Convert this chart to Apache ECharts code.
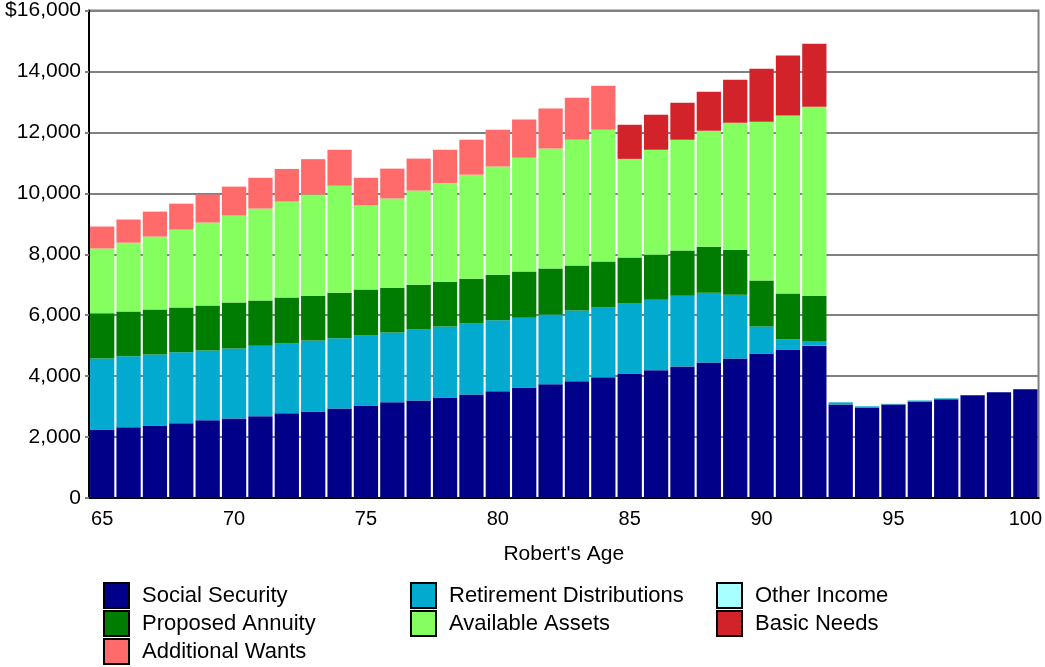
<!DOCTYPE html>
<html>
<head>
<meta charset="utf-8">
<script src="https://cdn.jsdelivr.net/npm/echarts@6/dist/echarts.min.js"></script>
<style>
  html, body { margin: 0; padding: 0; background: #fff; }
  #chart { width: 1045px; height: 667px; }
</style>
</head>
<body>
<div id="chart"></div>
<script>
// ages on the x axis
var ages = [];
for (var a = 65; a <= 100; a++) ages.push(String(a));

// stacked values (dollars)
var socialSecurity = [2250, 2320, 2380, 2450, 2550, 2610, 2680, 2780, 2840, 2940,
  3040, 3140, 3200, 3300, 3400, 3500, 3630, 3730, 3830, 3960,
  4090, 4190, 4320, 4450, 4580, 4740, 4870, 5000,
  3070, 2970, 3070, 3170, 3240, 3370, 3470, 3570];
var retirementDist = [2330, 2330, 2330, 2330, 2290, 2300, 2320, 2290, 2330, 2300,
  2290, 2290, 2330, 2330, 2330, 2330, 2290, 2290, 2320, 2290,
  2290, 2320, 2320, 2290, 2090, 890, 330, 140,
  70, 40, 20, 30, 30, 0, 0, 0];
var otherIncome = [0, 0, 0, 0, 0, 0, 0, 0, 0, 0,
  0, 0, 0, 0, 0, 0, 0, 0, 0, 0,
  0, 0, 0, 0, 0, 0, 0, 0,
  0, 0, 0, 0, 0, 0, 0, 0];
var proposedAnnuity = [1480, 1470, 1480, 1470, 1480, 1510, 1480, 1510, 1470, 1500,
  1510, 1470, 1470, 1470, 1470, 1500, 1510, 1510, 1480, 1510,
  1510, 1470, 1480, 1510, 1480, 1510, 1510, 1500,
  0, 0, 0, 0, 0, 0, 0, 0];
var availableAssets = [2130, 2260, 2390, 2560, 2720, 2850, 3020, 3150, 3320, 3510,
  2760, 2930, 3090, 3240, 3410, 3550, 3740, 3940, 4130, 4330,
  3240, 3450, 3640, 3800, 4170, 5210, 5840, 6200,
  0, 0, 0, 0, 0, 0, 0, 0];
var basicNeeds = [0, 0, 0, 0, 0, 0, 0, 0, 0, 0,
  0, 0, 0, 0, 0, 0, 0, 0, 0, 0,
  1120, 1150, 1210, 1280, 1410, 1740, 1970, 2070,
  0, 0, 0, 0, 0, 0, 0, 0];
var additionalWants = [720, 760, 820, 850, 920, 950, 1010, 1070, 1160, 1180,
  910, 980, 1050, 1090, 1150, 1210, 1250, 1310, 1380, 1440,
  0, 0, 0, 0, 0, 0, 0, 0,
  0, 0, 0, 0, 0, 0, 0, 0];

var font = 'Liberation Sans, Arial, sans-serif';

function bar(name, data, color) {
  return {
    name: name,
    type: 'bar',
    stack: 'total',
    data: data,
    barCategoryGap: '8%',
    itemStyle: { color: color },
    emphasis: { disabled: true }
  };
}

// one legend per entry so the 3-column grid sits exactly where it should
function legendItem(name, left, top) {
  return {
    data: [name],
    left: left,
    top: top,
    padding: 0,
    itemWidth: 25,
    itemHeight: 25,
    icon: 'rect',
    itemStyle: { borderColor: '#000', borderWidth: 2 },
    textStyle: { fontFamily: font, fontSize: 22, color: '#000', padding: [0, 0, 0, 8] }
  };
}

var myChart = echarts.init(document.getElementById('chart'));
var option = {
  animation: false,
  grid: {
    left: 89, right: 4, top: 10, bottom: 169,
    show: true, borderColor: '#808080', borderWidth: 2
  },
  legend: [
    legendItem('Social Security', 103, 582),
    legendItem('Retirement Distributions', 410, 582),
    legendItem('Other Income', 716, 582),
    legendItem('Proposed Annuity', 103, 610),
    legendItem('Available Assets', 410, 610),
    legendItem('Basic Needs', 716, 610),
    legendItem('Additional Wants', 103, 638)
  ],
  xAxis: {
    type: 'category',
    data: ages,
    name: "Robert's Age",
    nameLocation: 'middle',
    nameGap: 46,
    nameTextStyle: { fontFamily: font, fontSize: 21, color: '#000' },
    axisLine: { lineStyle: { color: '#000', width: 2 } },
    axisTick: { alignWithLabel: true, interval: 0, length: 5, lineStyle: { color: '#000', width: 2 } },
    axisLabel: { interval: 4, margin: 11, fontFamily: font, fontSize: 20, color: '#000' }
  },
  yAxis: {
    type: 'value',
    min: 0,
    max: 16000,
    interval: 2000,
    axisLine: { show: true, lineStyle: { color: '#000', width: 2 } },
    axisTick: { show: true, length: 4, lineStyle: { color: '#808080', width: 2 } },
    splitLine: { lineStyle: { color: '#808080', width: 2 } },
    axisLabel: {
      margin: 8,
      padding: [6, 0, 0, 0],
      fontFamily: font, fontSize: 21, color: '#000',
      formatter: function (v) {
        var s = v.toLocaleString('en-US');
        return v === 16000 ? '$' + s : s;
      }
    }
  },
  series: [
    bar('Social Security', socialSecurity, '#000088'),
    bar('Retirement Distributions', retirementDist, '#03aad0'),
    bar('Other Income', otherIncome, '#a8ffff'),
    bar('Proposed Annuity', proposedAnnuity, '#007c00'),
    bar('Available Assets', availableAssets, '#85ff5f'),
    bar('Basic Needs', basicNeeds, '#d3232a'),
    bar('Additional Wants', additionalWants, '#ff6b6b')
  ]
};
myChart.setOption(option);
</script>
</body>
</html>
